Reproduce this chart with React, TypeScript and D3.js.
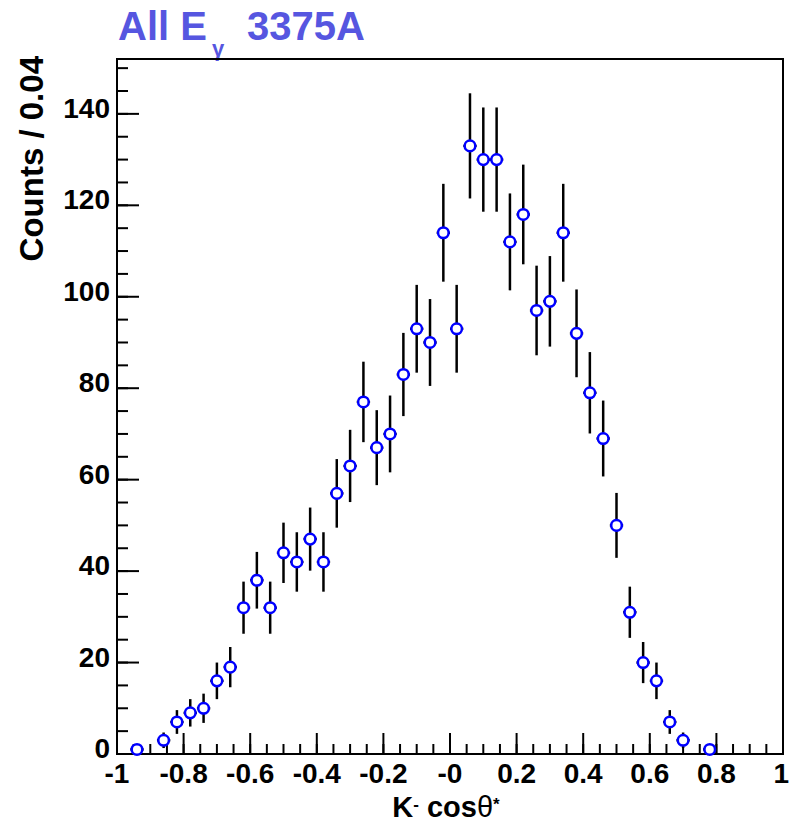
import React from "react";
import * as d3 from "d3";

// ---- data ----
const binCenters = [
  -0.94, -0.86, -0.82, -0.78, -0.74, -0.7, -0.66,
  -0.62, -0.58, -0.54, -0.5, -0.46, -0.42, -0.38, -0.34, -0.3, -0.26, -0.22, -0.18, -0.14, -0.1, -0.06, -0.02,
  0.02, 0.06, 0.1, 0.14, 0.18, 0.22, 0.26, 0.3, 0.34, 0.38, 0.42, 0.46, 0.5, 0.54, 0.58, 0.62, 0.66, 0.7,
  0.78,
];
const counts = [
  1, 3, 7, 9, 10, 16, 19,
  32, 38, 32, 44, 42, 47, 42, 57, 63, 77, 67, 70, 83, 93, 90, 114,
  93, 133, 130, 130, 112, 118, 97, 99, 114, 92, 79, 69, 50, 31, 20, 16, 7, 3,
  1,
];
const errors = [
  1, 1.7, 2.6, 3, 3.2, 4, 4.4,
  5.7, 6.2, 5.7, 6.6, 6.5, 6.9, 6.5, 7.5, 7.9, 8.8, 8.2, 8.4, 9.1, 9.6, 9.5, 10.7,
  9.6, 11.5, 11.4, 11.4, 10.6, 10.9, 9.8, 9.9, 10.7, 9.6, 8.9, 8.3, 7.1, 5.6, 4.5, 4, 2.6, 1.7,
  1,
];
const binHalfWidth = 0.02;

const xTickValues = [-1, -0.8, -0.6, -0.4, -0.2, 0, 0.2, 0.4, 0.6, 0.8, 1];
const xTickLabels = ["-1", "-0.8", "-0.6", "-0.4", "-0.2", "-0", "0.2", "0.4", "0.6", "0.8", "1"];
const yTickValues = [0, 20, 40, 60, 80, 100, 120, 140];
const yTickLabels = ["0", "20", "40", "60", "80", "100", "120", "140"];

const xDomain: [number, number] = [-1, 1];
const yDomain: [number, number] = [0, 152];

// ---- layout ----
const W = 789;
const H = 823;
const left = 117;
const right = 783;
const top = 59;
const bottom = 754;

const FONT = "'Liberation Sans', Arial, Helvetica, sans-serif";

export default function App() {
  const x = d3.scaleLinear().domain(xDomain).range([left, right]);
  const y = d3.scaleLinear().domain(yDomain).range([bottom, top]);

  const xMinor = d3.range(-1, 1.0001, 0.05);
  const yMinor = d3.range(0, 152, 5);

  return (
    <svg
      width={W}
      height={H}
      style={{ position: "absolute", left: 0, top: 0, background: "#fff" }}
      fontFamily={FONT}
    >
      <rect x={0} y={0} width={W} height={H} fill="#fff" />

      {/* title */}
      <text x={118} y={40} fontSize={40} fontWeight="bold" fill="#5656e0">
        All E
      </text>
      <text x={212} y={56} fontSize={22} fontWeight="bold" fill="#5656e0">
        γ
      </text>
      <text x={247} y={40} fontSize={40} fontWeight="bold" fill="#5656e0">
        3375A
      </text>

      {/* frame */}
      <rect
        x={left}
        y={top}
        width={right - left}
        height={bottom - top}
        fill="none"
        stroke="#000"
        strokeWidth={2}
      />

      {/* x ticks */}
      {xMinor.map((v, i) => (
        <line key={"xm" + i} x1={x(v)} x2={x(v)} y1={bottom} y2={bottom - 10} stroke="#000" strokeWidth={2} />
      ))}
      {xTickValues.map((v, i) => (
        <line key={"xM" + i} x1={x(v)} x2={x(v)} y1={bottom} y2={bottom - 21} stroke="#000" strokeWidth={2} />
      ))}
      {xTickValues.map((v, i) => {
        const last = i === xTickValues.length - 1;
        return (
          <text
            key={"xl" + i}
            x={last ? W : x(v)}
            y={783}
            fontSize={28}
            fontWeight="bold"
            textAnchor={last ? "end" : "middle"}
            fill="#000"
          >
            {xTickLabels[i]}
          </text>
        );
      })}

      {/* y ticks */}
      {yMinor.map((v, i) => (
        <line key={"ym" + i} x1={left} x2={left + 11} y1={y(v)} y2={y(v)} stroke="#000" strokeWidth={2} />
      ))}
      {yTickValues.map((v, i) => (
        <line key={"yM" + i} x1={left} x2={left + 22} y1={y(v)} y2={y(v)} stroke="#000" strokeWidth={2} />
      ))}
      {yTickValues.map((v, i) => (
        <text
          key={"yl" + i}
          x={110}
          y={y(v) + 4}
          fontSize={28}
          fontWeight="bold"
          textAnchor="end"
          fill="#000"
        >
          {yTickLabels[i]}
        </text>
      ))}

      {/* axis titles */}
      <text
        transform={`translate(43, 56) rotate(-90)`}
        fontSize={33}
        fontWeight="bold"
        textAnchor="end"
        fill="#000"
      >
        Counts / 0.04
      </text>
      <text x={446} y={816.5} fontSize={29} fontWeight="bold" textAnchor="middle" fill="#000">
        K<tspan fontSize={17} dy={-7}>-</tspan>
        <tspan dy={7}>{"\u00A0"}cos</tspan>
        <tspan fontWeight="normal">θ</tspan>
        <tspan fontSize={17} dy={-7}>*</tspan>
      </text>

      {/* data: error bars + markers */}
      {binCenters.map((c, i) => {
        const cx = x(c);
        const cy = y(counts[i]);
        return (
          <g key={"p" + i}>
            <line
              x1={cx}
              x2={cx}
              y1={y(counts[i] + errors[i])}
              y2={y(Math.max(0, counts[i] - errors[i]))}
              stroke="#000"
              strokeWidth={2.5}
            />
            <line
              x1={x(c - binHalfWidth)}
              x2={x(c + binHalfWidth)}
              y1={cy}
              y2={cy}
              stroke="#000"
              strokeWidth={2.5}
            />
            <circle cx={cx} cy={cy} r={5.3} fill="#fff" stroke="#0000ff" strokeWidth={2.5} />
          </g>
        );
      })}
    </svg>
  );
}
